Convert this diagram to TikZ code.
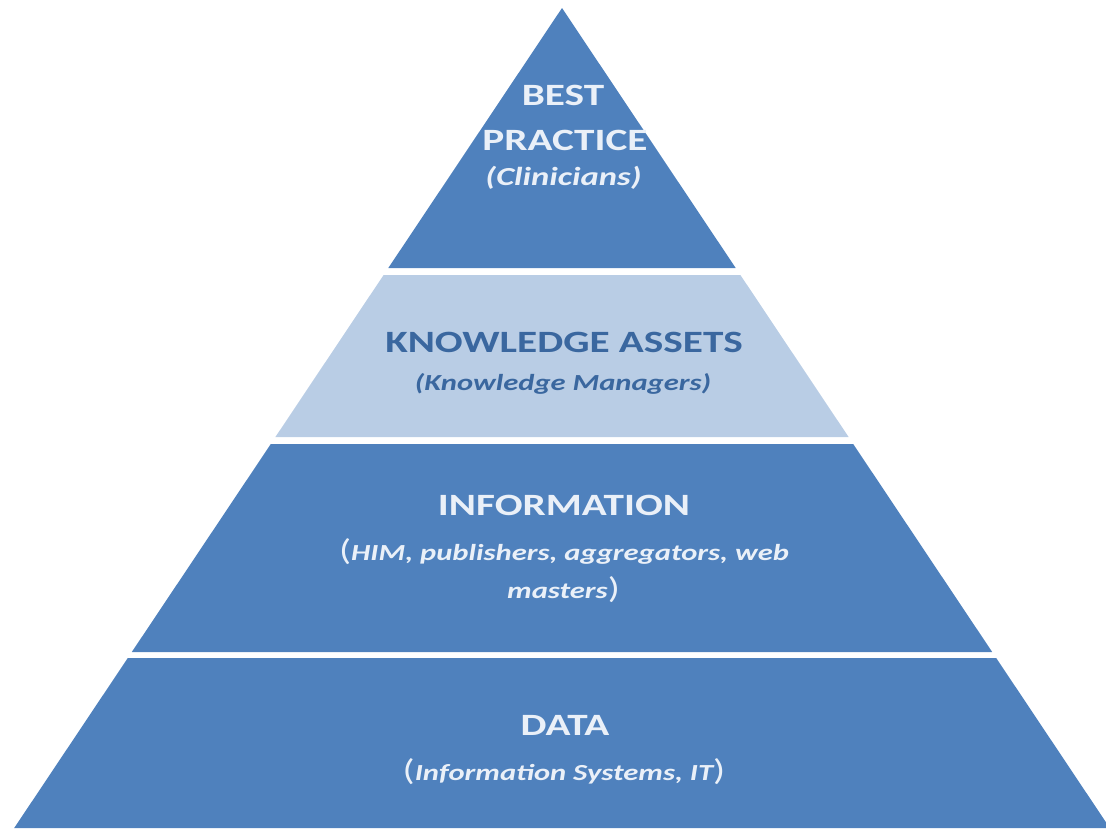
\documentclass[tikz,border=0pt]{standalone}
\usepackage{fontspec}
\setmainfont{Carlito}
\definecolor{dark}{HTML}{4F81BD}
\definecolor{light}{HTML}{B9CDE5}
\definecolor{txtlight}{HTML}{EAF0F8}
\definecolor{txtdark}{HTML}{3A679F}
\begin{document}
\begin{tikzpicture}[x=1pt,y=-1pt,
  lbl/.style={anchor=base, inner sep=0pt, xscale=1.33},
  ttl/.style={lbl, font=\fontsize{31}{31}\selectfont\bfseries},
  sub/.style={lbl, font=\fontsize{23}{23}\selectfont\bfseries\itshape},
  onDark/.style={text=txtlight},
  onLight/.style={text=txtdark},
]
\newcommand{\bigpar}[1]{{\fontsize{30}{30}\selectfont\mdseries\upshape #1}}
\useasboundingbox (0,0) rectangle (1106,828);
% layers
\fill[dark]  (562,8) -- (735.7,268) -- (388.3,268) -- cycle;
\fill[light] (383.6,275) -- (740.4,275) -- (848.6,437) -- (275.4,437) -- cycle;
\fill[dark]  (270.8,444) -- (853.2,444) -- (992.2,652) -- (131.8,652) -- cycle;
\fill[dark]  (127.8,658) -- (996.2,658) -- (1109.8,828) -- (14.2,828) -- cycle;
% texts
\node[ttl,onDark] (best) at (563,105) {BEST};
\node[ttl,onDark] (practice) at (565,150) {PRACTICE};
\node[sub,onDark,font=\fontsize{26}{26}\selectfont\bfseries\itshape] (clin) at (563.5,185) {(Clinicians)};
\node[ttl,onLight] (ka) at (564,352) {KNOWLEDGE ASSETS};
\node[sub,onLight] (km) at (563,390) {(Knowledge Managers)};
\node[ttl,onDark] (info) at (564,515) {INFORMATION};
\node[sub,onDark] (him) at (564,560) {\bigpar{(}HIM, publishers, aggregators, web};
\node[sub,onDark] (mast) at (563.5,598) {masters\bigpar{)}};
\node[ttl,onDark] (data) at (565,735) {DATA};
\node[sub,onDark] (is) at (564,780) {\bigpar{(}Information Systems, IT\bigpar{)}};
\end{tikzpicture}
\end{document}
